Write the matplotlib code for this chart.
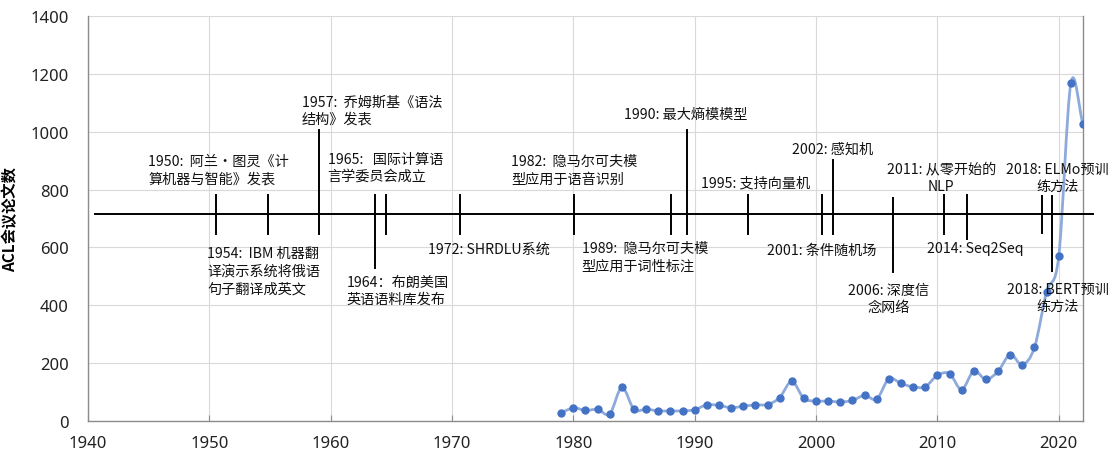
import matplotlib
matplotlib.use('Agg')
import matplotlib.pyplot as plt
import numpy as np
from matplotlib.path import Path
from matplotlib.patches import PathPatch

plt.rcParams['font.family'] = ['Noto Sans CJK SC', 'DejaVu Sans']

# ACL paper counts per year
years = [1979, 1980, 1981, 1982, 1983, 1984, 1985, 1986, 1987, 1988, 1989,
         1990, 1991, 1992, 1993, 1994, 1995, 1996, 1997, 1998, 1999, 2000,
         2001, 2002, 2003, 2004, 2005, 2006, 2007, 2008, 2009, 2010, 2011,
         2012, 2013, 2014, 2015, 2016, 2017, 2018, 2019, 2020, 2021, 2022]
papers = [28, 44, 36, 39, 24, 115, 39, 40, 34, 34, 34,
          38, 55, 53, 45, 50, 55, 56, 80, 136, 77, 68,
          68, 65, 70, 88, 75, 145, 129, 117, 118, 157, 163,
          108, 172, 143, 171, 229, 194, 254, 446, 569, 1168, 1026]

# timeline events
event_texts = [
    '1950:  阿兰·图灵《计\n算机器与智能》发表',
    '1954:  IBM 机器翻\n译演示系统将俄语\n句子翻译成英文',
    '1957:  乔姆斯基《语法\n结构》发表',
    '1965:   国际计算语\n言学委员会成立',
    '1964：布朗美国\n英语语料库发布',
    '1972: SHRDLU系统',
    '1982:  隐马尔可夫模\n型应用于语音识别',
    '1989:  隐马尔可夫模\n型应用于词性标注',
    '1990: 最大熵模模型',
    '1995: 支持向量机',
    '2001: 条件随机场',
    '2002: 感知机',
    '2006: 深度信\n念网络',
    '2011: 从零开始的\nNLP',
    '2014: Seq2Seq',
    '2018: ELMo预训\n练方法',
    '2018: BERT预训\n练方法',
]
# text anchor (data coords) and horizontal alignment
text_x = [1944.97, 1949.83, 1957.61, 1959.75, 1961.32, 1967.99, 1974.86,
          1980.69, 1984.20, 1990.50, 1995.93, 1998.04, 2005.97, 2010.32,
          2013.10, 2019.90, 2019.94]
text_y = [870, 519, 1075, 877, 452, 597, 869, 568, 1062, 825, 592, 943,
          422, 844, 597, 843, 427]
text_ha = ['left'] * 12 + ['center'] * 5
# marker stems on the timeline
stem_x = [1950.55, 1954.83, 1959.03, 1964.56, 1963.65, 1970.66, 1980.08,
          1988.05, 1989.39, 1994.42, 2000.47, 2001.37, 2006.37, 2010.55,
          2012.42, 2018.60, 2019.45]
stem_top = [781, 781, 1006, 781, 781, 781, 781, 781, 1006, 781, 781, 902,
            770, 781, 781, 778, 778]
stem_bot = [646, 646, 646, 646, 528, 646, 646, 646, 646, 646, 646, 646,
            514, 646, 629, 650, 518]
timeline_y = 714.5

fig = plt.figure(figsize=(11.11, 4.52), dpi=100)
ax = fig.add_axes([0.0792, 0.067, 0.8956, 0.8947])

ax.set_xlim(1940, 2022)
ax.set_ylim(0, 1400)
ax.set_xticks(range(1940, 2021, 10))
ax.set_yticks(range(0, 1401, 200))
ax.grid(True, color='#d9d9d9', linewidth=0.8)
ax.set_axisbelow(True)
for s in ['left', 'bottom', 'right']:
    ax.spines[s].set_color('#8c8c8c')
    ax.spines[s].set_linewidth(1.0)
ax.spines['top'].set_visible(False)
ax.tick_params(axis='x', direction='in', length=4, color='#8c8c8c', pad=10,
               labelsize=12, labelcolor='#222222')
ax.tick_params(axis='y', length=0, pad=14, labelsize=12, labelcolor='#222222')
for lab in ax.get_xticklabels() + ax.get_yticklabels():
    lab.set_family(['Noto Sans', 'DejaVu Sans'])
ax.set_ylabel('ACL会议论文数', fontsize=11, fontweight='bold')
ax.yaxis.set_label_coords(-0.0704, 0.5)

# smooth line (Catmull-Rom through the data points)
x = np.array(years, dtype=float)
y = np.array(papers, dtype=float)
n = len(x)
verts = [(x[0], y[0])]
codes = [Path.MOVETO]
for i in range(n - 1):
    p0 = i - 1 if i > 0 else i
    p3 = i + 2 if i + 2 < n else i + 1
    d1 = 1 if i == 0 else 2
    d2 = 1 if i + 2 >= n else 2
    m1 = ((x[i + 1] - x[p0]) / d1, (y[i + 1] - y[p0]) / d1)
    m2 = ((x[p3] - x[i]) / d2, (y[p3] - y[i]) / d2)
    c1 = (x[i] + m1[0] / 3, y[i] + m1[1] / 3)
    c2 = (x[i + 1] - m2[0] / 3, y[i + 1] - m2[1] / 3)
    verts += [c1, c2, (x[i + 1], y[i + 1])]
    codes += [Path.CURVE4] * 3
ax.add_patch(PathPatch(Path(verts, codes), facecolor='none',
                       edgecolor='#8eaadb', linewidth=2.0, zorder=3))
ax.plot(years, papers, linestyle='none', marker='o', markersize=5,
        color='#4472c4', zorder=4)

# timeline
ax.plot([1940.58, 2022.8], [timeline_y, timeline_y], color='black',
        linewidth=1.4, clip_on=False, zorder=5)
for sx, st, sb in zip(stem_x, stem_top, stem_bot):
    ax.plot([sx, sx], [sb, st], color='black', linewidth=1.4, zorder=5)

for t, tx, ty, ha in zip(event_texts, text_x, text_y, text_ha):
    ax.text(tx, ty, t, ha=ha, va='center', multialignment=ha, fontsize=10.2,
            linespacing=1.3, color='#111111', zorder=6)

plt.savefig('out.png', dpi=100)
